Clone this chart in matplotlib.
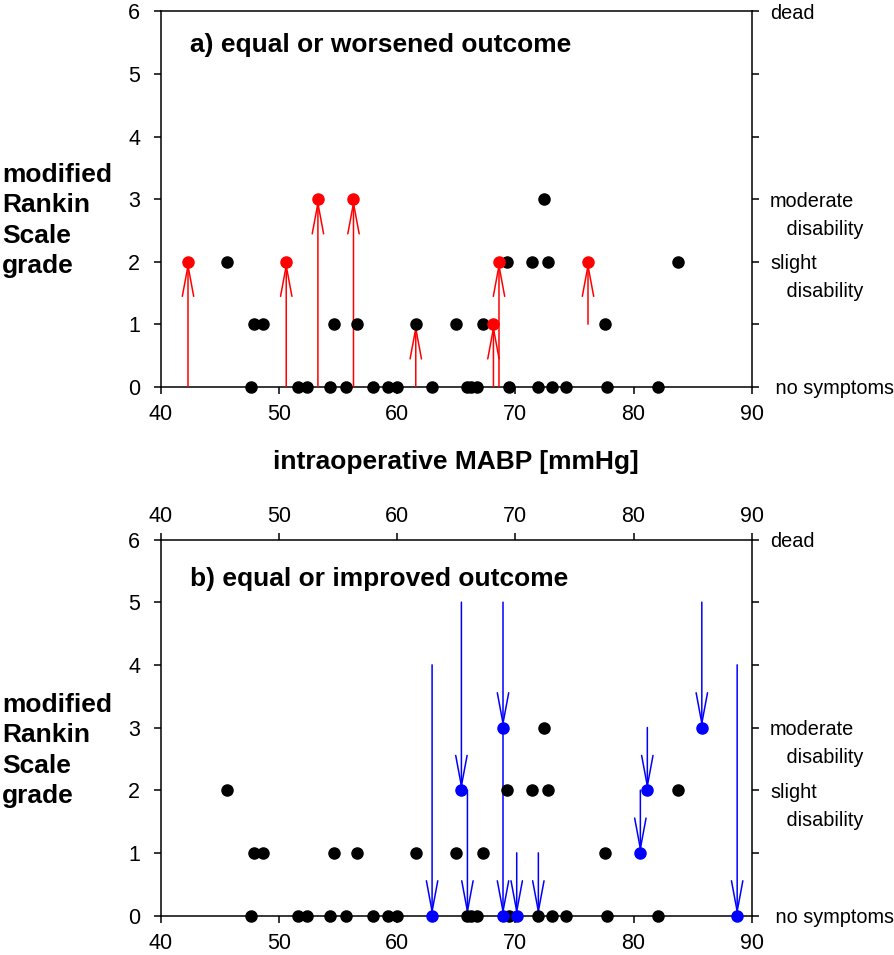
import matplotlib
matplotlib.use("Agg")
import matplotlib.pyplot as plt

plt.rcParams['font.family'] = ['Liberation Sans', 'DejaVu Sans']

# ---------------- data ----------------
# panel a: black points (unchanged outcome)
black_a_x = [45.63, 47.63, 47.91, 48.67, 51.58, 52.34, 54.62, 54.31, 55.66, 56.62,
             57.97, 59.24, 60.00, 61.58, 62.96, 64.96, 65.92, 66.29, 66.76, 67.27,
             69.27, 69.44, 71.45, 72.76, 72.43, 71.95, 73.14, 74.26, 77.58, 77.75,
             82.06, 83.75]
black_a_y = [2, 0, 1, 1, 0, 0, 1, 0, 0, 1,
             0, 0, 0, 1, 0, 1, 0, 0, 0, 1,
             2, 0, 2, 2, 3, 0, 0, 0, 1, 0,
             0, 2]
# panel a: worsened outcome arrows (from -> to)
red_x = [42.31, 50.62, 53.30, 56.31, 61.58, 68.15, 68.62, 76.15]
red_from = [0, 0, 0, 0, 0, 0, 0, 1]
red_to = [2, 2, 3, 3, 1, 1, 2, 2]
red_dot_x = [42.31, 50.62, 53.30, 56.31, 68.15, 68.62, 76.15]
red_dot_y = [2, 2, 3, 3, 1, 2, 2]

# panel b: black points
black_b_x = [45.63, 47.63, 47.91, 48.67, 51.58, 52.34, 54.62, 54.31, 55.66, 56.62,
             57.97, 59.24, 60.00, 61.58, 64.96, 65.92, 66.29, 66.76, 67.27,
             69.27, 69.44, 71.45, 72.76, 72.43, 71.95, 73.14, 74.26, 77.58, 77.75,
             82.06, 83.75]
black_b_y = [2, 0, 1, 1, 0, 0, 1, 0, 0, 1,
             0, 0, 0, 1, 1, 0, 0, 0, 1,
             2, 0, 2, 2, 3, 0, 0, 0, 1, 0,
             0, 2]
# panel b: improved outcome arrows (from -> to)
blue_x = [62.96, 65.44, 65.95, 68.96, 68.96, 70.12, 71.95, 80.58, 81.17, 85.78, 88.77]
blue_from = [4, 5, 2, 5, 3, 1, 1, 2, 3, 5, 4]
blue_to = [0, 2, 0, 3, 0, 0, 0, 1, 2, 3, 0]
blue_dot_x = [62.96, 65.44, 68.96, 68.96, 70.12, 80.58, 81.17, 85.78, 88.77]
blue_dot_y = [0, 2, 3, 0, 0, 1, 2, 3, 0]

x_ticks = [40, 50, 60, 70, 80, 90]
y_ticks = [0, 1, 2, 3, 4, 5, 6]
right_labels = {6: "dead", 3: "moderate\n   disability", 2: "slight\n   disability", 0: " no symptoms"}
ylabel_text = "modified\nRankin\nScale\ngrade"
xlabel_text = "intraoperative MABP [mmHg]"
title_a = "a) equal or worsened outcome"
title_b = "b) equal or improved outcome"

# ---------------- figure ----------------
W, H = 894, 955
fig = plt.figure(figsize=(W / 100, H / 100), dpi=100)
PT = 72 / 100  # points per pixel

def px_axes(left, top, right, bottom):
    return fig.add_axes([left / W, 1 - bottom / H, (right - left) / W, (bottom - top) / H])

ax_a = px_axes(160.7, 11.5, 751.7, 386.7)
ax_b = px_axes(160.7, 539.5, 751.7, 915.5)

LW = 1.1
TICKFS = 15.5
RFS = 14.3
BFS = 19

def style(ax, top_labels):
    ax.set_xlim(40, 90)
    ax.set_ylim(0, 6)
    ax.set_xticks(x_ticks)
    ax.set_yticks(y_ticks)
    for s in ax.spines.values():
        s.set_linewidth(LW)
    ax.tick_params(axis='both', direction='out', length=4.7, width=LW, labelsize=TICKFS)
    ax.tick_params(axis='y', left=True, right=True, labelleft=True, labelright=False, pad=10)
    ax.tick_params(axis='x', bottom=True, labelbottom=True, pad=8)
    if top_labels:
        ax.tick_params(axis='x', top=True, labeltop=True)
        for t in ax.xaxis.get_major_ticks():
            t.set_pad(8)
    else:
        ax.tick_params(axis='x', top=False, labeltop=False)
    # right-hand grade descriptions, one text per line
    for yv, txt in right_labels.items():
        for i, line in enumerate(txt.split("\n")):
            ax.annotate(line, xy=(1, yv), xycoords=('axes fraction', 'data'),
                        xytext=(13.2, -5.4 - i * 28 * PT), textcoords='offset points',
                        ha='left', va='baseline', fontsize=RFS,
                        annotation_clip=False)

style(ax_a, False)
style(ax_b, True)
# top tick labels of panel b sit closer to the axis
ax_b.xaxis.set_tick_params(which='major', pad=8)
for t in ax_b.xaxis.get_major_ticks():
    t.label2.set_transform(t.label2.get_transform() +
                           matplotlib.transforms.ScaledTranslation(0, -3.5 / 72, fig.dpi_scale_trans))

def arrows(ax, xs, y0s, y1s, color):
    for x, y0, y1 in zip(xs, y0s, y1s):
        ax.annotate("", xy=(x, y1), xytext=(x, y0),
                    arrowprops=dict(arrowstyle="->,head_length=22,head_width=4.1",
                                    mutation_scale=1, color=color, lw=1.1,
                                    shrinkA=0, shrinkB=0),
                    annotation_clip=False)

MS = 8
arrows(ax_a, red_x, red_from, red_to, '#ff0000')
ax_a.plot(black_a_x, black_a_y, 'o', color='black', ms=MS, clip_on=False, zorder=3)
ax_a.plot(red_dot_x, red_dot_y, 'o', color='#ff0000', ms=MS, clip_on=False, zorder=4)

arrows(ax_b, blue_x, blue_from, blue_to, '#0000ff')
ax_b.plot(black_b_x, black_b_y, 'o', color='black', ms=MS, clip_on=False, zorder=3)
ax_b.plot(blue_dot_x, blue_dot_y, 'o', color='#0000ff', ms=MS, clip_on=False, zorder=4)

# titles
ax_a.text((190 - 160.7) / 591, 1 - (52 - 11.5) / 375.2, title_a, transform=ax_a.transAxes,
          fontsize=BFS, fontweight='bold', ha='left', va='baseline')
ax_b.text((190 - 160.7) / 591, 1 - (586 - 539.5) / 376, title_b, transform=ax_b.transAxes,
          fontsize=BFS, fontweight='bold', ha='left', va='baseline')

# x label between panels
ax_a.text(0.5, -(469 - 386.7) / 375.2, xlabel_text, transform=ax_a.transAxes,
          fontsize=BFS, fontweight='bold', ha='center', va='baseline')

# y labels (one text per line, 30.5 px line pitch)
for base in (181.7, 711.5):
    for i, line in enumerate(ylabel_text.split("\n")):
        fig.text(2 / W, 1 - (base + i * 30.5) / H, line, fontsize=BFS, fontweight='bold',
                 ha='left', va='baseline')

fig.savefig("out.png", dpi=100)
